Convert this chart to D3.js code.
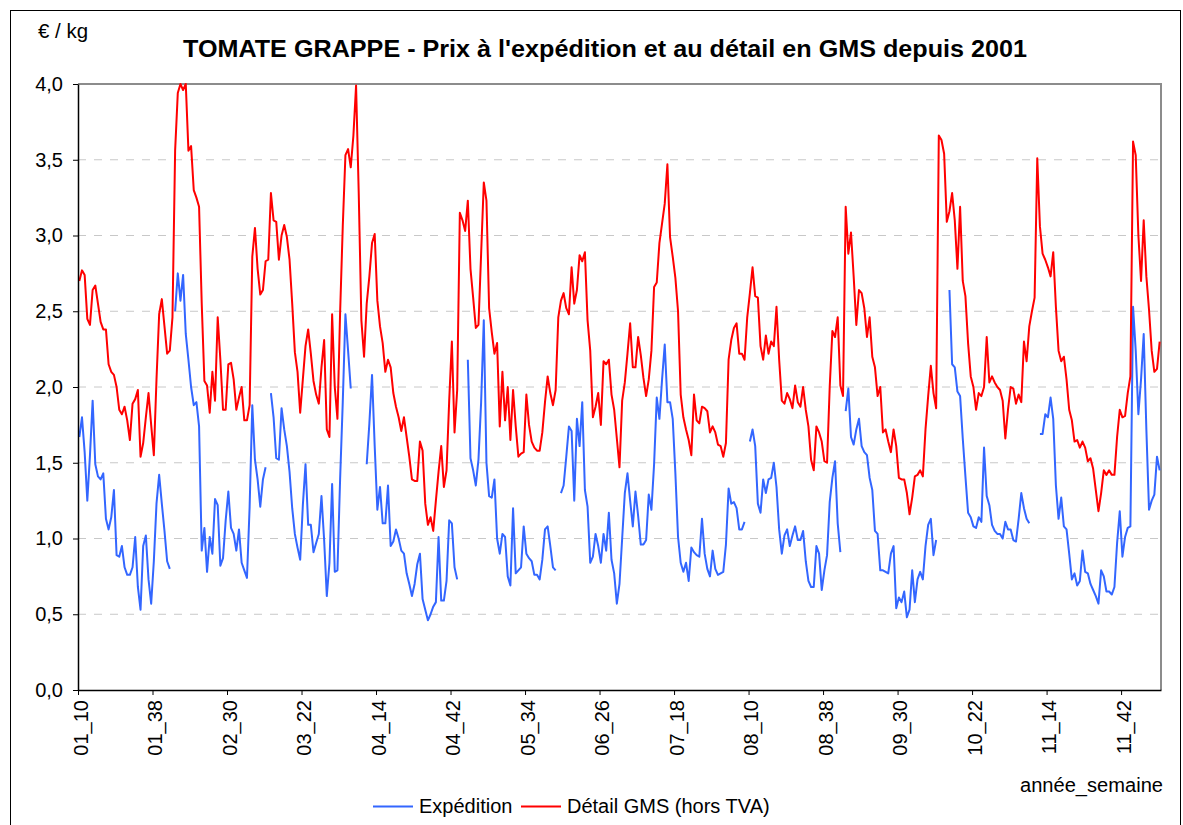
<!DOCTYPE html>
<html>
<head>
<meta charset="utf-8">
<script src="https://cdn.jsdelivr.net/npm/d3@7"></script>
<style>
  body { margin: 0; background: #fff; }
  svg text { font-family: "Liberation Sans", Arial, sans-serif; fill: #000; }
</style>
</head>
<body>
<div id="chart"></div>
<script>
// x labels, one every 28 weekly categories
const tickLabels = ['01_10','01_38','02_30','03_22','04_14','04_42','05_34','06_26','07_18','08_10','08_38','09_30','10_22','11_14','11_42'];
const weeksPerLabel = 28;
const yTicks = [0, 0.5, 1, 1.5, 2, 2.5, 3, 3.5, 4];

const seriesNames = ['Expédition', 'Détail GMS (hors TVA)'];
const seriesColors = ['#3366ff', '#ff0000'];

// Expédition, €/kg (null = no quotation)
const expedition = [
  1.67,1.80,1.57,1.25,1.55,1.91,1.49,1.41,1.39,1.43,1.13,1.06,1.14,1.32,0.89,0.88,0.95,0.81,0.76,0.76,0.81,1.01,0.68,0.53,0.95,1.02,0.73,0.57,
  0.85,1.23,1.42,1.23,1.05,0.85,0.80,null,2.50,2.75,2.57,2.74,2.35,2.18,2.00,1.88,1.90,1.74,0.92,1.07,0.78,1.01,0.90,1.26,1.22,0.82,0.87,1.12,
  1.31,1.07,1.03,0.92,1.06,0.84,0.79,0.74,1.21,1.88,1.52,1.39,1.21,1.39,1.47,null,1.96,1.80,1.53,1.52,1.86,1.72,1.61,1.44,1.20,1.03,0.94,0.86,
  1.22,1.49,1.09,1.09,0.91,0.97,1.03,1.28,0.99,0.62,0.84,1.36,0.78,0.79,1.39,1.90,2.48,2.24,1.99,null,null,null,null,null,1.49,1.76,2.08,1.61,
  1.19,1.34,1.10,1.10,1.35,0.95,0.98,1.06,1.00,0.92,0.90,0.77,0.70,0.62,0.70,0.83,0.90,0.60,0.53,0.46,0.50,0.55,0.58,1.01,0.59,0.59,0.72,1.12,
  1.10,0.81,0.73,null,null,null,2.18,1.53,1.45,1.35,1.52,1.90,2.44,1.50,1.28,1.27,1.39,1.00,0.90,1.03,1.01,0.75,0.69,1.20,0.77,0.79,0.81,1.08,
  0.90,0.87,0.85,0.76,0.76,0.73,0.86,1.06,1.08,0.95,0.81,0.79,null,1.30,1.35,1.54,1.74,1.71,1.25,1.79,1.61,1.90,1.32,1.21,0.84,0.88,1.03,0.95,
  0.84,1.03,0.92,1.17,0.86,0.77,0.57,0.70,1.00,1.30,1.43,1.25,1.08,1.31,1.15,0.96,0.96,0.99,1.29,1.19,1.49,1.93,1.79,2.05,2.28,1.90,1.90,1.79,
  1.43,1.01,0.84,0.78,0.84,0.72,0.94,0.91,0.89,0.88,1.13,0.90,0.80,0.75,0.92,0.80,0.76,0.77,0.78,0.96,1.33,1.23,1.24,1.20,1.06,1.06,1.11,null,
  1.64,1.72,1.61,1.23,1.17,1.39,1.30,1.39,1.40,1.50,1.34,1.06,0.90,1.02,1.06,0.95,1.02,1.08,0.99,0.99,1.05,0.85,0.72,0.68,0.68,0.95,0.90,0.66,
  0.79,0.89,1.24,1.40,1.51,1.10,0.91,null,1.84,1.99,1.67,1.62,1.72,1.79,1.61,1.57,1.55,1.40,1.32,1.05,1.03,0.79,0.79,0.78,0.77,0.90,0.95,0.54,
  0.61,0.58,0.65,0.48,0.53,0.79,0.58,0.73,0.78,0.73,0.95,1.09,1.13,0.89,0.99,null,null,null,null,2.64,2.15,2.13,1.97,1.94,1.66,1.41,1.17,1.14,
  1.08,1.07,1.14,1.11,1.60,1.28,1.22,1.09,1.05,1.03,1.03,1.00,1.11,1.06,1.06,0.99,0.98,1.13,1.30,1.20,1.13,1.10,null,null,null,1.69,1.69,1.82,
  1.80,1.93,1.79,1.35,1.13,1.27,1.08,1.06,0.90,0.73,0.77,0.69,0.72,0.92,0.78,0.77,0.70,0.66,0.62,0.57,0.79,0.75,0.65,0.65,0.63,0.68,0.97,1.18,
  0.88,1.01,1.07,1.08,2.53,2.24,1.82,2.05,2.35,1.72,1.19,1.25,1.29,1.54,1.45
];

// Détail GMS hors TVA, €/kg
const detailGMS = [
  2.70,2.77,2.74,2.45,2.41,2.64,2.67,2.55,2.43,2.38,2.38,2.15,2.10,2.08,2.00,1.85,1.82,1.87,1.78,1.65,1.89,1.92,1.98,1.54,1.63,1.80,1.96,1.75,
  1.55,2.05,2.48,2.58,2.40,2.22,2.24,2.46,3.56,3.94,4.00,3.96,4.00,3.56,3.59,3.30,3.25,3.19,2.55,2.04,2.01,1.83,2.10,1.91,2.46,2.18,1.85,1.85,
  2.15,2.16,2.05,1.85,1.93,2.00,1.78,1.78,1.88,2.86,3.05,2.78,2.61,2.64,2.83,2.84,3.28,3.10,3.09,2.84,3.00,3.07,2.99,2.84,2.55,2.23,2.10,1.83,
  2.05,2.27,2.38,2.22,2.04,1.95,1.89,2.13,2.31,1.72,1.67,2.48,2.00,1.79,2.49,3.06,3.53,3.57,3.45,3.66,3.99,3.28,2.44,2.20,2.55,2.73,2.95,3.01,
  2.57,2.40,2.29,2.10,2.18,2.13,1.96,1.87,1.80,1.71,1.80,1.67,1.54,1.39,1.38,1.38,1.64,1.58,1.23,1.09,1.14,1.05,1.25,1.44,1.61,1.34,1.45,1.91,
  2.30,1.70,1.98,3.15,3.10,3.03,3.23,2.78,2.59,2.39,2.41,2.88,3.35,3.23,2.52,2.36,2.22,2.29,1.74,2.10,1.78,2.00,1.65,1.98,1.74,1.54,1.56,1.57,
  1.95,1.75,1.64,1.60,1.58,1.58,1.70,1.90,2.07,1.96,1.88,1.98,2.46,2.57,2.62,2.52,2.48,2.79,2.55,2.64,2.87,2.83,2.89,2.44,2.24,1.80,1.87,1.96,
  1.75,2.17,2.15,2.18,1.95,1.85,1.66,1.47,1.91,2.03,2.22,2.42,2.13,2.13,2.33,2.21,2.06,1.94,2.05,2.24,2.66,2.69,2.95,3.08,3.21,3.47,2.99,2.86,
  2.72,2.50,1.95,1.80,1.72,1.65,1.55,1.95,1.78,1.76,1.87,1.86,1.84,1.70,1.74,1.70,1.62,1.61,1.54,1.63,2.18,2.31,2.39,2.42,2.22,2.22,2.18,2.46,
  2.62,2.79,2.60,2.59,2.27,2.18,2.34,2.22,2.30,2.27,2.53,2.18,1.91,1.89,1.96,1.92,1.86,2.01,1.90,1.87,2.00,1.85,1.74,1.52,1.45,1.74,1.70,1.64,
  1.51,1.50,2.00,2.37,2.33,2.46,2.01,1.94,3.19,2.88,3.02,2.73,2.41,2.64,2.62,2.52,2.33,2.46,2.20,2.13,1.94,2.00,1.70,1.72,1.64,1.57,1.72,1.61,
  1.40,1.39,1.39,1.30,1.16,1.27,1.41,1.42,1.45,1.41,1.72,1.94,2.14,1.96,1.86,3.66,3.63,3.54,3.09,3.16,3.28,3.10,2.78,3.19,2.70,2.60,2.29,2.07,
  2.00,1.85,1.96,1.94,2.00,2.33,2.03,2.07,2.03,2.00,1.98,1.91,1.66,1.85,2.00,1.99,1.89,1.95,1.90,2.30,2.17,2.40,2.50,2.59,3.51,3.06,2.88,2.84,
  2.79,2.73,2.89,2.53,2.24,2.17,2.20,2.05,1.85,1.78,1.64,1.65,1.60,1.64,1.60,1.51,1.53,1.46,1.32,1.18,1.30,1.45,1.42,1.45,1.42,1.42,1.67,1.85,
  1.80,1.81,1.96,2.07,3.62,3.53,3.00,2.70,3.10,2.73,2.51,2.24,2.10,2.12,2.30
];

const width = 1183, height = 825;
const plot = {left: 78, right: 1161, top: 84, bottom: 690};
const n = detailGMS.length;

const x = d3.scaleLinear().domain([0, n]).range([plot.left, plot.right]);
const y = d3.scaleLinear().domain([0, 4]).range([plot.bottom, plot.top]);

const svg = d3.select('#chart').append('svg')
    .attr('width', width)
    .attr('height', height);

// outer chart frame
svg.append('rect')
    .attr('x', 10.5).attr('y', 10.5)
    .attr('width', 1170).attr('height', 830)
    .attr('fill', 'none')
    .attr('stroke', '#000');

// dashed gridlines
svg.append('g')
    .selectAll('line')
    .data(yTicks.filter(d => d > 0 && d < 4))
    .join('line')
    .attr('x1', plot.left).attr('x2', plot.right)
    .attr('y1', d => y(d)).attr('y2', d => y(d))
    .attr('stroke', '#c8c8c8')
    .attr('stroke-dasharray', '8,8');

// plot area border (top, right)
svg.append('path')
    .attr('d', `M${plot.left},${plot.top}H${plot.right}V${plot.bottom}`)
    .attr('fill', 'none')
    .attr('stroke', '#8c8c8c')
    .attr('stroke-width', 2);

// series
const line = d3.line()
    .defined(d => d != null)
    .x((d, i) => x(i + 0.5))
    .y(d => y(d));

[expedition, detailGMS].forEach((data, k) => {
    svg.append('path')
        .datum(data)
        .attr('d', line)
        .attr('fill', 'none')
        .attr('stroke', seriesColors[k])
        .attr('stroke-width', 2)
        .attr('stroke-linejoin', 'round');
});

// y axis
const yAxis = svg.append('g')
    .attr('transform', `translate(${plot.left},0)`)
    .call(d3.axisLeft(y)
        .tickValues(yTicks)
        .tickFormat(d => d3.format('.1f')(d).replace('.', ','))
        .tickSizeInner(5).tickSizeOuter(0).tickPadding(10));
yAxis.selectAll('text').style('font-size', '20px');

// x axis
const xAxis = svg.append('g')
    .attr('transform', `translate(0,${plot.bottom})`)
    .call(d3.axisBottom(x)
        .tickValues(tickLabels.map((_, k) => k * weeksPerLabel))
        .tickFormat((d, k) => tickLabels[k])
        .tickSizeInner(5).tickSizeOuter(0));
xAxis.selectAll('text')
    .style('font-size', '20px')
    .attr('transform', 'rotate(-90)')
    .attr('text-anchor', 'end')
    .attr('x', -10).attr('y', 2)
    .attr('dy', '0.35em');

[yAxis, xAxis].forEach(g => {
    g.select('.domain').attr('stroke', '#000').attr('stroke-width', 1.5);
    g.selectAll('.tick line').attr('stroke', '#000');
});

// titles
svg.append('text')
    .attr('x', 38).attr('y', 38)
    .style('font-size', '20px')
    .attr('textLength', 50)
    .attr('lengthAdjust', 'spacingAndGlyphs')
    .text('€ / kg');

svg.append('text')
    .attr('x', 183).attr('y', 57)
    .style('font-size', '23px')
    .style('font-weight', 'bold')
    .attr('textLength', 844)
    .attr('lengthAdjust', 'spacingAndGlyphs')
    .text("TOMATE GRAPPE - Prix à l'expédition et au détail en GMS depuis 2001");

svg.append('text')
    .attr('x', 1020).attr('y', 792)
    .style('font-size', '20px')
    .attr('textLength', 143)
    .attr('lengthAdjust', 'spacingAndGlyphs')
    .text('année_semaine');

// legend
const legendX = [373, 521];
const legend = svg.append('g');
seriesNames.forEach((name, k) => {
    legend.append('line')
        .attr('x1', legendX[k]).attr('x2', legendX[k] + 40)
        .attr('y1', 806.5).attr('y2', 806.5)
        .attr('stroke', seriesColors[k])
        .attr('stroke-width', 2);
    legend.append('text')
        .attr('x', legendX[k] + 46).attr('y', 813)
        .style('font-size', '20px')
        .text(name);
});
</script>
</body>
</html>
